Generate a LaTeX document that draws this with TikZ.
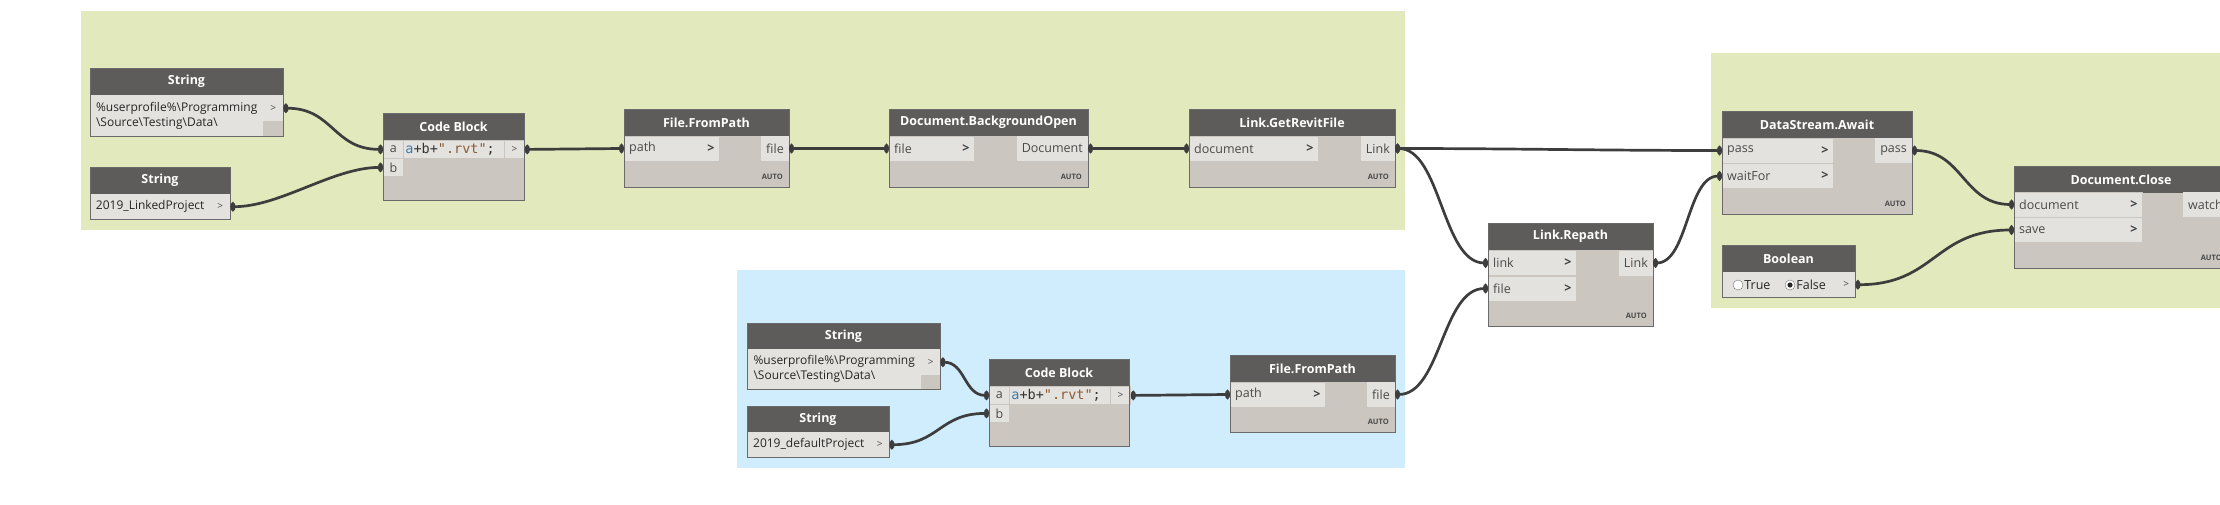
\documentclass[tikz,border=0pt]{standalone}
\usepackage{fontspec}
\setmainfont{Open Sans}
\setmonofont{DejaVu Sans Mono}
\usetikzlibrary{positioning,arrows.meta}
\definecolor{groupgreen}{HTML}{E1E9BD}
\definecolor{groupblue}{HTML}{CFEDFC}
\definecolor{headgray}{HTML}{5E5C5A}
\definecolor{bodygray}{HTML}{CBC6C0}
\definecolor{cellgray}{HTML}{E3E2DE}
\definecolor{framegray}{HTML}{6A6A6A}
\definecolor{wiregray}{HTML}{3D3D3D}
\definecolor{labelgray}{HTML}{4A4A4A}
\definecolor{codeblue}{HTML}{3F7CAC}
\definecolor{codebrown}{HTML}{8C5A33}

\begin{document}
\begin{tikzpicture}[x=1pt,y=-1pt]
	\tikzstyle{headtext} = [text=white,font=\fontsize{12.5}{15}\selectfont\bfseries,inner sep=0pt]
	\tikzstyle{incell} = [fill=cellgray,draw=bodygray,line width=0.8pt,minimum height=25pt,inner sep=0pt,anchor=west]
	\tikzstyle{outcell} = [fill=cellgray,minimum height=25pt,inner xsep=5pt,inner ysep=0pt,anchor=east,text=labelgray,font=\fontsize{12.5}{15}\selectfont]
	\tikzstyle{plabel} = [anchor=west,inner xsep=5pt,text=labelgray,font=\fontsize{12.5}{15}\selectfont]
	\tikzstyle{chev} = [anchor=east,inner xsep=5pt,text=black!75,font=\fontsize{12.5}{15}\selectfont\bfseries]
	\tikzstyle{strcell} = [fill=cellgray,anchor=north west,inner sep=0pt,align=left,text=black!85,font=\fontsize{12}{15}\selectfont]
	\tikzstyle{arrcell} = [fill=cellgray,anchor=north west,inner sep=0pt,minimum width=20pt,text=labelgray,font=\fontsize{10}{12}\selectfont]
	\tikzstyle{cbcell} = [fill=cellgray,draw=bodygray,line width=0.8pt,anchor=north west,inner sep=0pt,minimum height=18pt,text=labelgray,font=\fontsize{12.5}{15}\selectfont]
	\tikzstyle{autolbl} = [anchor=south east,inner sep=0pt,text=labelgray,font=\fontsize{7.5}{9}\selectfont\bfseries]
	\tikzstyle{nodeframe} = [draw=framegray,line width=1pt]
	\tikzstyle{radio} = [circle,draw=black!55,fill=white,minimum size=10pt,inner sep=0pt]
	\tikzstyle{wire} = [draw=wiregray,line width=2.7pt,{Circle[length=5pt,width=9pt]}-{Circle[length=5pt,width=9pt]}]
	\useasboundingbox (0,0) rectangle (2220,504);
	\clip (0,0) rectangle (2220,504);
	% groups
	\fill[groupgreen] (81,11) rectangle (1405,230);
	\fill[groupgreen] (1711,53) rectangle (2230,308);
	\fill[groupblue] (737,270) rectangle (1405,468);
	% node bodies and headers
	\def\nodelist{str1/90/68/283/136/String, str2/90/167/230/219/String,
		cb1/383/113/524/200/Code Block, fp1/624/109/789/187/File.FromPath,
		bo/889/109/1088/187/Document.BackgroundOpen, grf/1189/109/1395/187/Link.GetRevitFile,
		lr/1488/223/1653/326/Link.Repath, dsa/1722/111/1912/214/DataStream.Await,
		bool/1722/245/1855/297/Boolean, dc/2014/166/2228/268/Document.Close,
		str3/747/323/940/389/String, str4/747/406/889/457/String,
		cb2/989/359/1129/446/Code Block, fp2/1230/355/1395/432/File.FromPath}
	\foreach \nm/\xa/\ya/\xb/\yb/\ttl in \nodelist
	{
		\fill[bodygray] (\xa,\ya) rectangle (\xb,\yb);
		\fill[headgray] (\xa,\ya) rectangle (\xb,\ya+27);
		\node[headtext] (\nm) at ({(\xa+\xb)/2},\ya+13.5) {\ttl};
	}
	% input ports
	\foreach \nm/\x/\y/\w/\lab in {fp1path/624/148.5/95/path, bofile/889/148.5/85/file,
		grfdoc/1189/148.5/129/document, lrlink/1488/263/88/link, lrfile/1488/288.5/88/file,
		dsapass/1722/150.5/111/pass, dsawait/1722/176/111/waitFor,
		dcdoc/2014/204.5/128/document, dcsave/2014/230/128/save, fp2path/1230/394.5/95/path}
	{
		\node[incell,minimum width=\w pt] (\nm) at (\x,\y) {};
		\node[plabel] (\nm-lab) at (\nm.west) {\lab};
		\node[chev] (\nm-chev) at (\nm.east) {>};
	}
	% output ports
	\foreach \nm/\x/\y/\lab in {fp1file/789/148.5/file, boout/1088/148.5/Document,
		grfout/1395/148.5/Link, lrout/1653/263/Link, dsaout/1912/150.5/pass,
		dcout/2228/204.5/watch, fp2file/1395/394.5/file}
		\node[outcell] (\nm) at (\x,\y) {\lab};
	% string inputs
	\node[strcell,minimum width=173pt,minimum height=41pt] (str1val) at (90,95) {\%userprofile\%\textbackslash Programming\\\textbackslash Source\textbackslash Testing\textbackslash Data\textbackslash};
	\node[arrcell,minimum height=26pt] (str1out) at (263,95) {>};
	\node[strcell,minimum width=120pt,minimum height=25pt] (str2val) at (90,194) {2019\_LinkedProject};
	\node[arrcell,minimum height=25pt] (str2out) at (210,194) {>};
	\node[strcell,minimum width=174pt,minimum height=40pt] (str3val) at (747,349) {\%userprofile\%\textbackslash Programming\\\textbackslash Source\textbackslash Testing\textbackslash Data\textbackslash};
	\node[arrcell,minimum width=19pt,minimum height=26pt] (str3out) at (921,349) {>};
	\node[strcell,minimum width=123pt,minimum height=25pt] (str4val) at (747,432) {2019\_defaultProject};
	\node[arrcell,minimum width=19pt,minimum height=25pt] (str4out) at (870,432) {>};
	% code blocks
	\foreach \cb/\x/\y in {cb1/383/140, cb2/989/386}
	{
		\node[cbcell,minimum width=20pt] (\cb-a) at (\x,\y) {a};
		\node[cbcell,minimum width=20pt] (\cb-b) at (\x,\y+18) {b};
		\node[cbcell,minimum width=101pt,text width=97pt,align=left,text=black!80,font=\fontsize{13.5}{15}\ttfamily] (\cb-code) at (\x+20,\y) {{\color{codeblue}a}+b+{\color{codebrown}".rvt"};};
		\node[cbcell,minimum width=20pt,font=\fontsize{10}{12}\selectfont] (\cb-out) at (\x+121,\y) {>};
	}
	% boolean
	\node[strcell,minimum width=115pt,minimum height=25pt] (boolval) at (1722,272) {};
	\node[arrcell,minimum width=18pt,minimum height=25pt] (boolout) at (1837,272) {>};
	\node[radio] (radtrue) at (1738,285) {};
	\node[right=1pt of radtrue,inner sep=0pt,text=black!85,font=\fontsize{12.5}{15}\selectfont] (txttrue) {True};
	\node[radio] (radfalse) at (1790,285) {};
	\fill[black!85] (radfalse.center) circle (2.6pt);
	\node[right=1pt of radfalse,inner sep=0pt,text=black!85,font=\fontsize{12.5}{15}\selectfont] (txtfalse) {False};
	% lacing labels
	\foreach \x/\y [count=\i] in {783/180, 1082/180, 1389/180, 1647/319, 1906/207, 2222/261, 1389/425}
		\node[autolbl] (autotag\i) at (\x,\y) {AUTO};
	% frames
	\foreach \nm/\xa/\ya/\xb/\yb/\ttl in \nodelist
		\draw[nodeframe] (\xa,\ya) rectangle (\xb,\yb);
	% wires
	\foreach \src/\dst/\dd in {str1out/cb1-a/50, str2out/cb1-b/50, cb1-out/fp1path/50,
		fp1file/bofile/50, boout/grfdoc/50, grfout/dsapass/120, grfout/lrlink/46,
		lrout/dsawait/35, dsaout/dcdoc/51, boolout/dcsave/80, str3out/cb2-a/25,
		str4out/cb2-b/50, cb2-out/fp2path/50, fp2file/lrfile/46}
		\draw[wire] (\src.east) .. controls +(\dd,0) and +(-\dd,0) .. (\dst.west);
\end{tikzpicture}
\end{document}
